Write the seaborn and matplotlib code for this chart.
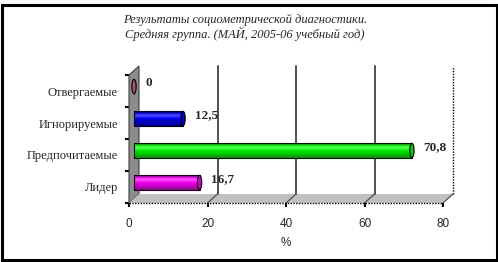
import numpy as np
import pandas as pd
import matplotlib
matplotlib.use("Agg")
import matplotlib.pyplot as plt
import matplotlib.transforms as mtransforms
from matplotlib.patches import Polygon, Ellipse, Rectangle
import matplotlib.colors as mcolors
import seaborn as sns

# ---- data ----
categories = ["Отвергаемые", "Игнорируемые", "Предпочитаемые", "Лидер"]
values = [0, 12.5, 70.8, 16.7]
colors = ["#d0609a", "#0000ff", "#00ff00", "#ff00ff"]
x_ticks = [0, 20, 40, 60, 80]
title_lines = ["Результаты социометрической диагностики.",
               "Средняя группа. (МАЙ, 2005-06 учебный год)"]
x_label = "%"

sns.set_theme(style="white")
plt.rcParams["font.family"] = ["Liberation Serif", "DejaVu Serif"]

W, H = 498, 262
fig = plt.figure(figsize=(W / 100, H / 100), dpi=100)
fig.patch.set_facecolor("white")

# front plane of the 3D box
L, R, B, T = 129, 443, 203, 75
ax = fig.add_axes([L / W, (H - B) / H, (R - L) / W, (B - T) / H])
ax.set_facecolor("none")

df = pd.DataFrame({"category": categories, "value": values})
sns.barplot(data=df, x="value", y="category", hue="category",
            palette=colors, orient="h", width=0.45, edgecolor="black",
            linewidth=0.8, legend=False, ax=ax, zorder=5)

ax.set_xlim(x_ticks[0], x_ticks[-1])
ax.set_ylim(len(categories) - 0.5, -0.5)
for s in ax.spines.values():
    s.set_visible(False)

# depth offsets
dxp, dyp = 10, 9
dx = dxp / (R - L)
dy = dyp / (B - T)
mid = mtransforms.ScaledTranslation(dxp / 200, dyp / 200, fig.dpi_scale_trans)
bt = mtransforms.blended_transform_factory(ax.transData, ax.transAxes)
back_x = mtransforms.ScaledTranslation(dxp / 100, 0, fig.dpi_scale_trans)
xunit = (x_ticks[-1] - x_ticks[0]) / (R - L)

# left wall
ax.add_patch(Polygon([(0, 0), (dx, dy), (dx, 1 + dy), (0, 1)], closed=True,
                     transform=ax.transAxes, facecolor="#8c8c8c",
                     edgecolor="#404040", lw=0.8, clip_on=False, zorder=1))
# floor
ax.add_patch(Polygon([(0, 0), (1, 0), (1 + dx, dy), (dx, dy)], closed=True,
                     transform=ax.transAxes, facecolor="#c0c0c0",
                     edgecolor="none", clip_on=False, zorder=1))
# gridlines on the back wall
for t in x_ticks[1:-1]:
    ax.plot([t, t], [dy, 1 + dy], transform=bt + back_x,
            color="#505050", lw=1.4, clip_on=False, zorder=2)
# floor diagonals
for t in x_ticks[1:]:
    ax.plot([t, t + dxp * xunit], [0, dy], transform=bt, color="#505050",
            lw=0.9, clip_on=False, zorder=2)
# right back edge (dotted)
ax.plot([1 + dx, 1 + dx], [dy, 1 + dy], transform=ax.transAxes, color="black",
        lw=1.0, ls=(0, (1, 1)), clip_on=False, zorder=2)
# front bottom edge (dotted)
ax.plot([0, 1], [0, 0], transform=ax.transAxes, color="black",
        lw=1.0, ls=(0, (1, 1)), clip_on=False, zorder=3)

# cylinder shading for bars
bars = [p for p in ax.patches if isinstance(p, Rectangle) and p.get_zorder() == 5]
bar_tr = ax.transData + mid
for i, (p, c) in enumerate(zip(bars, colors)):
    p.set_transform(bar_tr)
    x0, y0 = p.get_x(), p.get_y()
    w, h = p.get_width(), p.get_height()
    base = np.array(mcolors.to_rgb(c))
    n = 32
    tt = np.linspace(0, 1, n)  # top -> bottom
    shade = np.where(tt < 0.3, 0.6 + 1.4 * tt, 1.0 - 0.55 * (tt - 0.3))
    light = np.clip(base[None, :] * shade[:, None]
                    + 0.3 * np.exp(-((tt - 0.3) / 0.12) ** 2)[:, None], 0, 1)
    img = light[:, None, :]
    if w > 0:
        im = ax.imshow(img, extent=[x0, x0 + w, y0 + h, y0], aspect="auto",
                       transform=bar_tr, zorder=5, interpolation="bilinear")
        im.set_clip_path(p)
    p.set_facecolor("none")
    p.set_zorder(6)
    cap = Ellipse((x0 + w, y0 + h / 2), width=1.1, height=h, transform=bar_tr,
                  facecolor=tuple(base * 0.8), edgecolor="black", lw=0.8,
                  zorder=7, clip_on=False)
    ax.add_patch(cap)
    lab = f"{w:g}".replace(".", ",")
    ax.text(x0 + w + 3.0, y0 + h / 2 - 0.1, lab, transform=bar_tr,
            ha="left", va="center", fontsize=9.5, fontweight="bold",
            family=["Liberation Serif"], zorder=8)

ax.set_xlim(x_ticks[0], x_ticks[-1])
ax.set_ylim(len(categories) - 0.5, -0.5)

# ticks
ax.set_xticks(x_ticks)
ax.set_xticklabels([str(t) for t in x_ticks], family=["Liberation Sans"], fontsize=8.5)
ax.tick_params(axis="x", bottom=True, direction="out", length=3, width=1.5,
               color="black", pad=8)
ax.set_yticks(np.arange(len(categories) + 1) - 0.5)
ax.set_yticklabels([])
ax.set_yticks(np.arange(len(categories)), minor=True)
ax.set_yticklabels(categories, minor=True, fontsize=9)
ax.tick_params(axis="y", which="major", left=True, direction="out", length=3,
               width=1.5, color="black")
ax.tick_params(axis="y", which="minor", left=True, length=0, pad=8)
ax.set_ylabel("")
ax.set_xlabel(x_label, family=["Liberation Sans"], fontsize=8.5, labelpad=5)

# title
fig.text(245 / W, 1 - 20 / H, title_lines[0], ha="center", va="center",
         fontsize=9, style="italic")
fig.text(245 / W, 1 - 34 / H, title_lines[1], ha="center", va="center",
         fontsize=9, style="italic")

# outer border
fig.add_artist(Rectangle((1.5 / W, 2.5 / H), (W - 3) / W, (H - 7) / H,
                         transform=fig.transFigure, fill=False,
                         edgecolor="black", lw=2.2))

fig.savefig("out.png", dpi=100)
